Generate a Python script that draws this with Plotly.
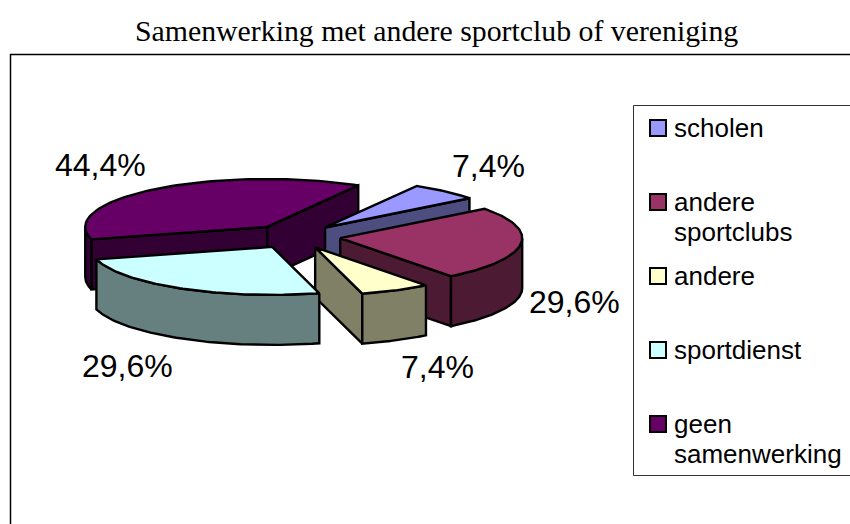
import numpy as np
import plotly.graph_objects as go

title = "Samenwerking met andere sportclub of vereniging"
categories = ["scholen", "andere sportclubs", "andere", "sportdienst", "geen samenwerking"]
legend_lines = [["scholen"], ["andere", "sportclubs"], ["andere"], ["sportdienst"], ["geen", "samenwerking"]]
values = [7.4, 29.6, 7.4, 29.6, 44.4]
top_colors = ["#9999FF", "#993366", "#FFFFCC", "#CCFFFF", "#660066"]
wall_colors = ["#4D4D80", "#4D1A33", "#808066", "#668080", "#330033"]
label_xy = [(488, 166), (574, 302), (437, 367), (127, 366), (100, 165)]

# pie geometry in pixel-like plot units
CX, CY, RX, RY, DEPTH, EXPLODE = 295.0, 236.5, 182.0, 48.0, 50.0, 45.6
START = 60.0
FS_LABEL, FS_LEGEND, FS_TITLE = 32, 26, 29.8
EDGE = "#000000"

total = sum(values)
spans = [v / total * 360 for v in values]
ends = START - np.cumsum(spans)
starts = ends + np.array(spans)

fig = go.Figure()


def poly(xs, ys, color, name):
    fig.add_trace(go.Scatter(x=list(xs) + [xs[0]], y=list(ys) + [ys[0]], mode="lines", fill="toself",
                             fillcolor=color, line=dict(color=EDGE, width=2.4), name=name,
                             hoverinfo="name", showlegend=False))


def pt(cx, cy, deg):
    r = np.radians(deg)
    return cx + RX * np.cos(r), cy - RY * np.sin(r)


def arc(cx, cy, a, b):
    return pt(cx, cy, np.linspace(a, b, 80))


def centre(i):
    mid = np.radians((starts[i] + ends[i]) / 2)
    return CX + EXPLODE * np.cos(mid), CY - EXPLODE * RY / RX * np.sin(mid)


def cut_wall(cx, cy, deg, color, name):
    x, y = pt(cx, cy, deg)
    poly([cx, x, x, cx], [cy, y, y + DEPTH, cy + DEPTH], color, name)


def outer_wall(cx, cy, a, b, color, name):
    xs, ys = arc(cx, cy, a, b)
    poly(list(xs) + list(xs[::-1]), list(ys) + list(ys[::-1] + DEPTH), color, name)


def top(i, cx, cy):
    xs, ys = arc(cx, cy, starts[i], ends[i])
    poly([cx] + list(xs), [cy] + list(ys), top_colors[i], categories[i])


# back-to-front painting order: geen, scholen, andere sportclubs, andere, sportdienst
i = 4
cx, cy = centre(i)
cut_wall(cx, cy, starts[i], wall_colors[i], categories[i])
cut_wall(cx, cy, ends[i], wall_colors[i], categories[i])
outer_wall(cx, cy, starts[i], -180, wall_colors[i], categories[i])
top(i, cx, cy)

i = 0
cx, cy = centre(i)
cut_wall(cx, cy, ends[i], wall_colors[i], categories[i])
top(i, cx, cy)

i = 1
cx, cy = centre(i)
cut_wall(cx, cy, ends[i], wall_colors[i], categories[i])
outer_wall(cx, cy, 0, ends[i], wall_colors[i], categories[i])
top(i, cx, cy)

i = 2
cx, cy = centre(i)
cut_wall(cx, cy, ends[i], wall_colors[i], categories[i])
outer_wall(cx, cy, starts[i], ends[i], wall_colors[i], categories[i])
top(i, cx, cy)

i = 3
cx, cy = centre(i)
outer_wall(cx, cy, starts[i], ends[i], wall_colors[i], categories[i])
top(i, cx, cy)

annotations = []


def text(x, y, s, size, family, anchor="center"):
    annotations.append(dict(x=x, y=y, text=s, showarrow=False, xanchor=anchor, yanchor="middle",
                            font=dict(size=size, family=family, color="#000000"), borderpad=0))


for v, (x, y) in zip(values, label_xy):
    text(x, y, f"{v:.1f}%".replace(".", ","), FS_LABEL, "Liberation Sans")

# legend
shapes = [
    dict(type="path", path="M 10.5 524 L 10.5 54.5 L 850 54.5", line=dict(color="#000000", width=1.5)),
    dict(type="path", path="M 850 105.5 L 633.5 105.5 L 633.5 475.5 L 850 475.5", line=dict(color="#333333", width=1)),
]
for k, lines in enumerate(legend_lines):
    row = 128 + 74 * k
    fig.add_trace(go.Scatter(x=[658], y=[row], mode="markers", showlegend=False, hoverinfo="skip",
                             marker=dict(symbol="square", size=16, color=top_colors[k],
                                         line=dict(color="#000000", width=2))))
    for j, line in enumerate(lines):
        text(673, row + 30 * j, line, FS_LEGEND, "Liberation Sans", "left")

text(436, 30, title, FS_TITLE, "Liberation Serif")

fig.update_layout(width=850, height=524, margin=dict(l=0, r=0, t=0, b=0),
                  paper_bgcolor="#FFFFFF", plot_bgcolor="#FFFFFF",
                  xaxis=dict(range=[0, 850], visible=False, fixedrange=True),
                  yaxis=dict(range=[524, 0], visible=False, fixedrange=True),
                  annotations=annotations, shapes=shapes)
fig.write_html("out.html", config=dict(displayModeBar=False),
               post_script="document.body.style.margin='0';")
